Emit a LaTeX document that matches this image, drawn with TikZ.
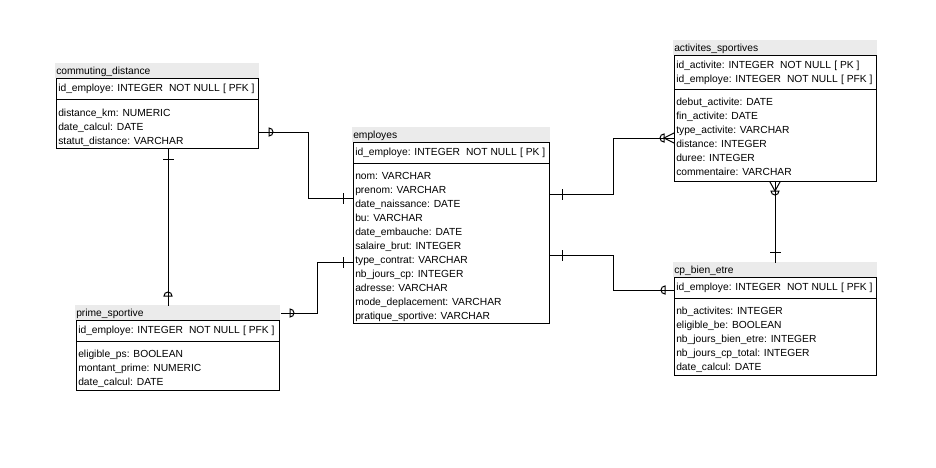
\documentclass[tikz,border=0pt]{standalone}
\usepackage{fontspec}
\setmainfont{Liberation Sans}
\usetikzlibrary{calc}
\definecolor{titlegrey}{HTML}{EBEBEB}
\newcommand{\gapA}{\hspace{4.5pt}}
\newcommand{\gapB}{\hspace{2.5pt}}
\newcommand{\zeroR}[1]{\draw[conn] ($(#1)+(0,4)$) arc[start angle=-90,end angle=90,radius=3pt] -- cycle;}
\newcommand{\zeroL}[1]{\draw[conn] ($(#1)+(0,4)$) arc[start angle=-90,end angle=-270,radius=3pt] -- cycle;}
\newcommand{\zeroU}[1]{\draw[conn] ($(#1)+(-4,0)$) arc[start angle=180,end angle=0,radius=3pt] -- cycle;}
\newcommand{\zeroDn}[1]{\draw[conn] ($(#1)+(-4,0)$) arc[start angle=180,end angle=360,radius=3pt] -- cycle;}
\newcommand{\tickH}[1]{\draw[conn] ($(#1)+(0,-5)$) -- ($(#1)+(0,5)$);}
\newcommand{\tickV}[1]{\draw[conn] ($(#1)+(-5,0)$) -- ($(#1)+(5,0)$);}
\tikzset{
  tbox/.style={draw=black, line width=0.75pt, inner sep=0pt, anchor=north west},
  txt/.style={anchor=west, inner sep=0pt, text height=8.5pt, text depth=1.7pt, font=\fontsize{7.7}{9}\selectfont},
  conn/.style={line width=0.75pt, line cap=rect},
}
\begin{document}
\begin{tikzpicture}[x=0.75pt, y=-0.75pt]
\fill[white] (0,0) rectangle (936,468);
\useasboundingbox (0,0) rectangle (936,468);

% ---------- commuting_distance ----------
\fill[titlegrey] (55,63) rectangle (259,77.5);
\node[tbox, minimum width=151.5pt, minimum height=52.5pt] (cd) at (56,78) {};
\draw[conn, line cap=butt] ($(cd.north west)+(0,21)$) -- ($(cd.north east)+(0,21)$);
\node[txt] (cd-t) at ($(cd.north west)+(0,-8)$) {commuting\_distance};
\node[txt] (cd-h1) at ($(cd.north west)+(2,9)$) {id\_employe: INTEGER\gapA NOT NULL\gapB [ PFK ]};
\node[txt] (cd-b1) at ($(cd.north west)+(2,34)$) {distance\_km: NUMERIC};
\node[txt] (cd-b2) at ($(cd.north west)+(2,48)$) {date\_calcul: DATE};
\node[txt] (cd-b3) at ($(cd.north west)+(2,62)$) {statut\_distance: VARCHAR};

% ---------- employes ----------
\fill[titlegrey] (352,127) rectangle (550,141.5);
\node[tbox, minimum width=147pt, minimum height=135.75pt] (emp) at (353,142) {};
\draw[conn, line cap=butt] ($(emp.north west)+(0,21)$) -- ($(emp.north east)+(0,21)$);
\node[txt] (emp-t) at ($(emp.north west)+(0,-8)$) {employes};
\node[txt] (emp-h1) at ($(emp.north west)+(2,9)$) {id\_employe: INTEGER\gapA NOT NULL\gapB [ PK ]};
\node[txt] (emp-b1) at ($(emp.north west)+(2,33)$) {nom: VARCHAR};
\node[txt] (emp-b2) at ($(emp.north west)+(2,47)$) {prenom: VARCHAR};
\node[txt] (emp-b3) at ($(emp.north west)+(2,61)$) {date\_naissance: DATE};
\node[txt] (emp-b4) at ($(emp.north west)+(2,75)$) {bu: VARCHAR};
\node[txt] (emp-b5) at ($(emp.north west)+(2,89)$) {date\_embauche: DATE};
\node[txt] (emp-b6) at ($(emp.north west)+(2,103)$) {salaire\_brut: INTEGER};
\node[txt] (emp-b7) at ($(emp.north west)+(2,117)$) {type\_contrat: VARCHAR};
\node[txt] (emp-b8) at ($(emp.north west)+(2,131)$) {nb\_jours\_cp: INTEGER};
\node[txt] (emp-b9) at ($(emp.north west)+(2,145)$) {adresse: VARCHAR};
\node[txt] (emp-b10) at ($(emp.north west)+(2,159)$) {mode\_deplacement: VARCHAR};
\node[txt] (emp-b11) at ($(emp.north west)+(2,173)$) {pratique\_sportive: VARCHAR};

% ---------- activites_sportives ----------
\fill[titlegrey] (673,40) rectangle (877,54.5);
\node[tbox, minimum width=151.5pt, minimum height=94.5pt] (act) at (674,55) {};
\draw[conn, line cap=butt] ($(act.north west)+(0,34)$) -- ($(act.north east)+(0,34)$);
\node[txt] (act-t) at ($(act.north west)+(0,-8)$) {activites\_sportives};
\node[txt] (act-h1) at ($(act.north west)+(2,9)$) {id\_activite: INTEGER\gapA NOT NULL\gapB [ PK ]};
\node[txt] (act-h2) at ($(act.north west)+(2,23)$) {id\_employe: INTEGER\gapA NOT NULL\gapB [ PFK ]};
\node[txt] (act-b1) at ($(act.north west)+(2,46)$) {debut\_activite: DATE};
\node[txt] (act-b2) at ($(act.north west)+(2,60)$) {fin\_activite: DATE};
\node[txt] (act-b3) at ($(act.north west)+(2,74)$) {type\_activite: VARCHAR};
\node[txt] (act-b4) at ($(act.north west)+(2,88)$) {distance: INTEGER};
\node[txt] (act-b5) at ($(act.north west)+(2,102)$) {duree: INTEGER};
\node[txt] (act-b6) at ($(act.north west)+(2,116)$) {commentaire: VARCHAR};

% ---------- cp_bien_etre ----------
\fill[titlegrey] (673,262) rectangle (877,276.5);
\node[tbox, minimum width=151.5pt, minimum height=73.5pt] (cp) at (674,277) {};
\draw[conn, line cap=butt] ($(cp.north west)+(0,21)$) -- ($(cp.north east)+(0,21)$);
\node[txt] (cp-t) at ($(cp.north west)+(0,-8)$) {cp\_bien\_etre};
\node[txt] (cp-h1) at ($(cp.north west)+(2,9)$) {id\_employe: INTEGER\gapA NOT NULL\gapB [ PFK ]};
\node[txt] (cp-b1) at ($(cp.north west)+(2,33)$) {nb\_activites: INTEGER};
\node[txt] (cp-b2) at ($(cp.north west)+(2,47)$) {eligible\_be: BOOLEAN};
\node[txt] (cp-b3) at ($(cp.north west)+(2,61)$) {nb\_jours\_bien\_etre: INTEGER};
\node[txt] (cp-b4) at ($(cp.north west)+(2,75)$) {nb\_jours\_cp\_total: INTEGER};
\node[txt] (cp-b5) at ($(cp.north west)+(2,89)$) {date\_calcul: DATE};

% ---------- prime_sportive ----------
\fill[titlegrey] (75,305) rectangle (280,319.5);
\node[tbox, minimum width=152.25pt, minimum height=52.5pt] (prime) at (76,320) {};
\draw[conn, line cap=butt] ($(prime.north west)+(0,21)$) -- ($(prime.north east)+(0,21)$);
\node[txt] (prime-t) at ($(prime.north west)+(0,-8)$) {prime\_sportive};
\node[txt] (prime-h1) at ($(prime.north west)+(2,9)$) {id\_employe: INTEGER\gapA NOT NULL\gapB [ PFK ]};
\node[txt] (prime-b1) at ($(prime.north west)+(2,33)$) {eligible\_ps: BOOLEAN};
\node[txt] (prime-b2) at ($(prime.north west)+(2,47)$) {montant\_prime: NUMERIC};
\node[txt] (prime-b3) at ($(prime.north west)+(2,61)$) {date\_calcul: DATE};

% ---------- connectors ----------
% C1 commuting_distance -> employes
\coordinate (c1a) at ($(cd.north east)+(0,54)$);
\coordinate (c1b) at ($(emp.north west)+(0,56)$);
\draw[conn] (c1a) -- ++(49,0) |- (c1b);
\coordinate (s1a) at ($(c1a)+(10,0)$); \zeroR{s1a}
\coordinate (s1b) at ($(c1b)+(-10,0)$); \tickH{s1b}

% C2 commuting_distance -> prime_sportive
\coordinate (c2a) at ($(cd.south west)+(112,0)$);
\coordinate (c2b) at ($(prime.north west)+(92,-15)$);
\draw[conn] (c2a) -- (c2b);
\coordinate (s2a) at ($(c2a)+(0,10)$); \tickV{s2a}
\coordinate (s2b) at ($(c2b)+(0,-9)$); \zeroU{s2b}

% C3 prime_sportive -> employes
\coordinate (c3a) at ($(prime.north east)+(1,-7)$);
\coordinate (c3b) at ($(emp.north west)+(0,120)$);
\draw[conn] (c3a) -- ++(36,0) |- (c3b);
\coordinate (s3a) at ($(c3a)+(9,0)$); \zeroR{s3a}
\coordinate (s3b) at ($(c3b)+(-10,0)$); \tickH{s3b}

% C4 employes -> activites_sportives
\coordinate (c4a) at ($(emp.north east)+(0,52)$);
\coordinate (c4b) at ($(act.north west)+(0,83)$);
\draw[conn] (c4a) -- ++(63,0) |- (c4b);
\coordinate (s4a) at ($(c4a)+(12,0)$); \tickH{s4a}
\coordinate (s4b) at ($(c4b)+(-10,0)$);
\draw[conn] ($(c4b)+(0,-5)$) -- (s4b) -- ($(c4b)+(0,5)$);
\zeroL{s4b}

% C5 employes -> cp_bien_etre
\coordinate (c5a) at ($(emp.north east)+(0,113)$);
\coordinate (c5b) at ($(cp.north west)+(0,13)$);
\draw[conn] (c5a) -- ++(63,0) |- (c5b);
\coordinate (s5a) at ($(c5a)+(12,0)$); \tickH{s5a}
\coordinate (s5b) at ($(c5b)+(-9,0)$); \zeroL{s5b}

% C6 activites_sportives -> cp_bien_etre
\coordinate (c6a) at ($(act.south west)+(101,0)$);
\coordinate (c6b) at ($(cp.north west)+(101,-15)$);
\draw[conn] (c6a) -- (c6b);
\coordinate (s6a) at ($(c6a)+(0,9)$);
\draw[conn] ($(c6a)+(-5,0)$) -- (s6a) -- ($(c6a)+(5,0)$);
\zeroDn{s6a}
\coordinate (s6b) at ($(c6b)+(0,-10)$); \tickV{s6b}
\end{tikzpicture}
\end{document}
